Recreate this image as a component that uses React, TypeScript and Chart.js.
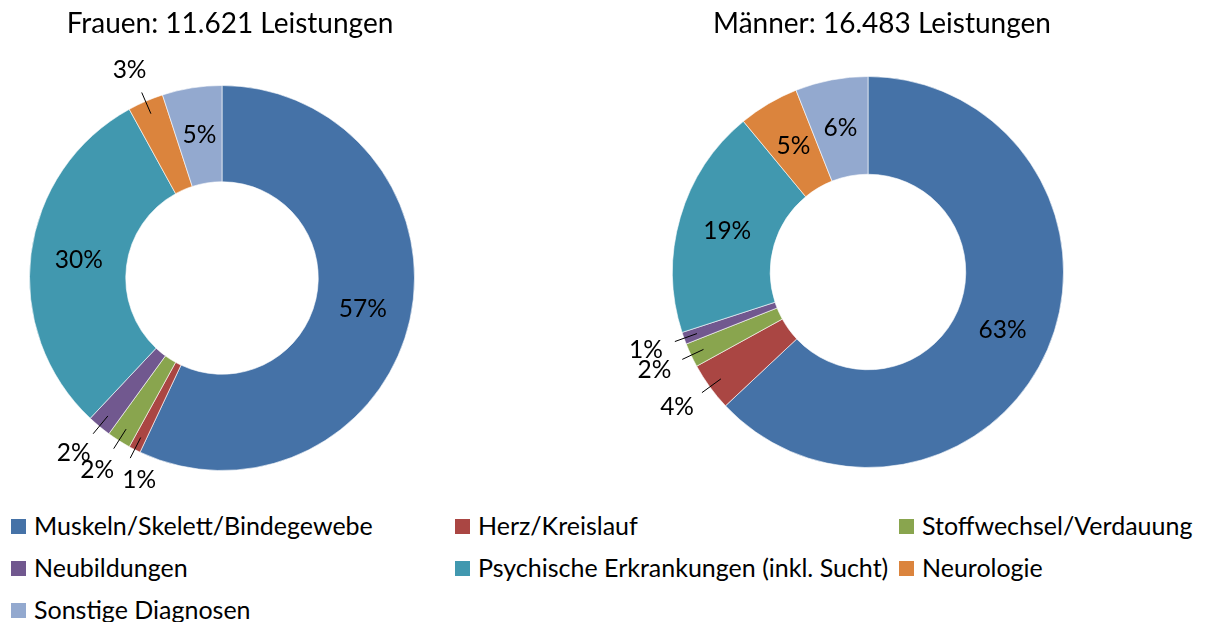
import React, { useEffect, useRef } from "react";
import { Chart, registerables } from "chart.js";

Chart.register(...registerables);

const categories = [
  "Muskeln/Skelett/Bindegewebe",
  "Herz/Kreislauf",
  "Stoffwechsel/Verdauung",
  "Neubildungen",
  "Psychische Erkrankungen (inkl. Sucht)",
  "Neurologie",
  "Sonstige Diagnosen",
];
const sliceColors = ["#4572A7", "#AA4643", "#89A54E", "#71588F", "#4198AF", "#DB843D", "#93A9CF"];
const frauenValues = [57, 1, 2, 2, 30, 3, 5];
const maennerValues = [63, 4, 2, 1, 19, 5, 6];
const frauenTitle = "Frauen: 11.621 Leistungen";
const maennerTitle = "Männer: 16.483 Leistungen";

const FONT = "Lato, 'Open Sans', sans-serif";
const LABEL_SIZE = 24.5;
const LEGEND_SIZE = 25;
const TITLE_SIZE = 28;

type Box = { x1: number; y1: number; x2: number; y2: number; cx: number };

const makeLabelPlugin = (title: string, titleX: number) => ({
  id: "sliceLabels",
  afterDraw(chart: any) {
    const ctx = chart.ctx as CanvasRenderingContext2D;
    const meta = chart.getDatasetMeta(0);
    const data = chart.data.datasets[0].data as number[];
    const total = data.reduce((a, b) => a + b, 0);
    ctx.save();
    ctx.fillStyle = "#000";
    ctx.font = `${TITLE_SIZE}px ${FONT}`;
    ctx.textAlign = "center";
    ctx.textBaseline = "alphabetic";
    ctx.fillText(title, titleX, 33);

    ctx.font = `${LABEL_SIZE}px ${FONT}`;
    ctx.textBaseline = "middle";
    const placed: Box[] = [];
    const items = meta.data.map((arc: any, i: number) => ({ arc, i }));
    for (let k = items.length - 1; k >= 0; k--) {
      const { arc, i } = items[k];
      const p = arc.getProps(["x", "y", "startAngle", "endAngle", "innerRadius", "outerRadius"], true);
      const mid = (p.startAngle + p.endAngle) / 2;
      const dx = Math.cos(mid);
      const dy = Math.sin(mid);
      const frac = data[i] / total;
      const text = Math.round(frac * 100) + "%";
      if (frac >= 0.045) {
        const r = (p.innerRadius + p.outerRadius) / 2;
        ctx.fillText(text, p.x + dx * r, p.y + dy * r);
      } else {
        const r1 = p.outerRadius * 0.93;
        const r2 = p.outerRadius * 1.05;
        const r3 = p.outerRadius * 1.09;
        const ex = p.x + dx * r2;
        const ey = p.y + dy * r2;
        const w = ctx.measureText(text).width;
        const h = 16;
        let cx = p.x + dx * r3 + dx * (w / 2 + 6);
        const cy = p.y + dy * r3 + dy * (LABEL_SIZE / 2 + 5);
        for (const b of placed) {
          const box = { x1: cx - w / 2, x2: cx + w / 2, y1: cy - h / 2, y2: cy + h / 2 };
          if (box.x1 < b.x2 && box.x2 > b.x1 && box.y1 < b.y2 && box.y2 > b.y1) {
            if (cx >= b.cx) cx = b.x2 + 8 + w / 2;
            else cx = b.x1 - 8 - w / 2;
          }
        }
        placed.push({ x1: cx - w / 2, x2: cx + w / 2, y1: cy - h / 2, y2: cy + h / 2, cx });
        ctx.strokeStyle = "#000";
        ctx.lineWidth = 1;
        ctx.beginPath();
        ctx.moveTo(p.x + dx * r1, p.y + dy * r1);
        ctx.lineTo(ex, ey);
        ctx.stroke();
        ctx.fillText(text, cx, cy);
      }
    }
    ctx.restore();
  },
});

function Donut(props: {
  values: number[];
  title: string;
  titleX: number;
  left: number;
  width: number;
  height: number;
  padding: { left: number; right: number; top: number; bottom: number };
}) {
  const ref = useRef<HTMLCanvasElement | null>(null);
  useEffect(() => {
    if (!ref.current) return;
    const chart = new Chart(ref.current, {
      type: "doughnut",
      data: {
        labels: categories,
        datasets: [
          {
            data: props.values,
            backgroundColor: sliceColors,
            borderColor: "rgba(255,255,255,0.6)",
            borderWidth: 1,
            hoverOffset: 0,
            offset: 0,
          },
        ],
      },
      options: {
        responsive: false,
        animation: false,
        cutout: "50%",
        layout: { padding: props.padding },
        plugins: { legend: { display: false }, tooltip: { enabled: false }, title: { display: false } },
      },
      plugins: [makeLabelPlugin(props.title, props.titleX)],
    });
    return () => chart.destroy();
  }, []);
  return (
    <canvas
      ref={ref}
      width={props.width}
      height={props.height}
      style={{ position: "absolute", left: props.left, top: 0, width: props.width, height: props.height }}
    />
  );
}

const legendCols = [11, 455, 899];
const legendRows = [526, 568, 610];

export default function App() {
  return (
    <div style={{ position: "fixed", left: 0, top: 0, width: 1205, height: 622, background: "#fff", overflow: "hidden" }}>
      <Donut
        values={frauenValues}
        title={frauenTitle}
        titleX={230}
        left={0}
        width={445}
        height={500}
        padding={{ left: 29, right: 30, top: 85, bottom: 29 }}
      />
      <Donut
        values={maennerValues}
        title={maennerTitle}
        titleX={282}
        left={600}
        width={605}
        height={500}
        padding={{ left: 72, right: 141, top: 76, bottom: 32 }}
      />
      {categories.map((c, i) => {
        const x = legendCols[i % 3];
        const y = legendRows[Math.floor(i / 3)];
        return (
          <div key={c}>
            <div
              style={{ position: "absolute", left: x, top: y - 7.5, width: 15, height: 15, background: sliceColors[i] }}
            />
            <div
              style={{
                position: "absolute",
                left: x + 23,
                top: y - 16,
                height: 30,
                lineHeight: "30px",
                fontFamily: FONT,
                fontSize: LEGEND_SIZE,
                color: "#000",
                whiteSpace: "nowrap",
              }}
            >
              {c}
            </div>
          </div>
        );
      })}
    </div>
  );
}
